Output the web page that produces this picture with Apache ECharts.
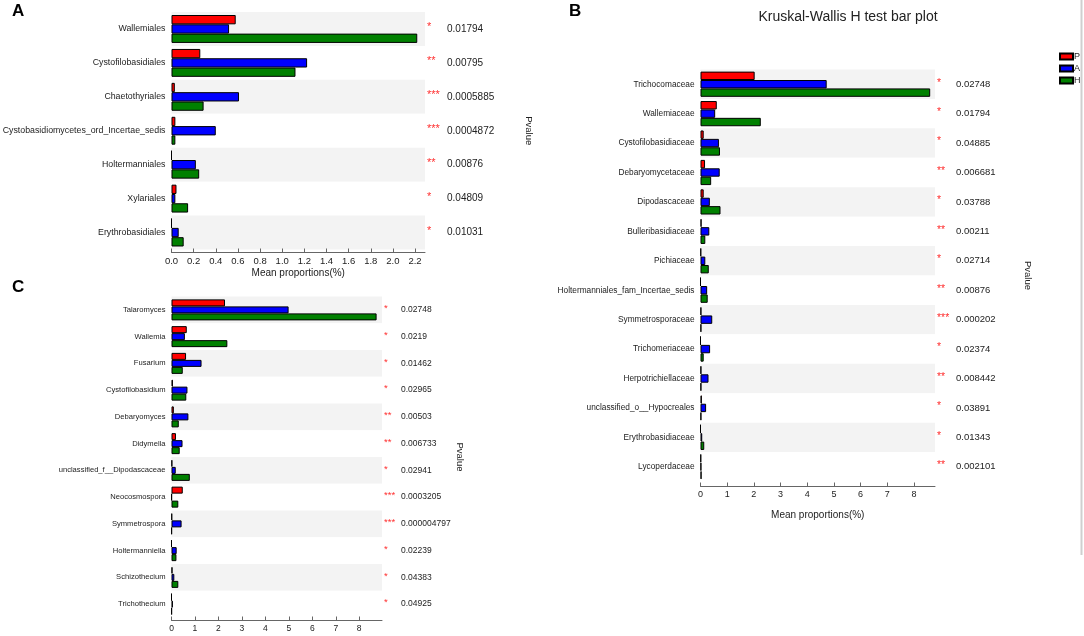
<!DOCTYPE html>
<html>
<head>
<meta charset="utf-8">
<script src="https://cdn.jsdelivr.net/npm/echarts@6/dist/echarts.min.js"></script>
<style>
html,body{margin:0;padding:0;background:#fff;}
#main{width:1084px;height:636px;}
</style>
</head>
<body>
<div id="main"></div>
<script>
// ---------- Panel A (order level) ----------
const catsA = ['Wallemiales','Cystofilobasidiales','Chaetothyriales','Cystobasidiomycetes_ord_Incertae_sedis','Holtermanniales','Xylariales','Erythrobasidiales'];
const valsA_P = [0.58, 0.26, 0.03, 0.035, 0, 0.045, 0];
const valsA_A = [0.52, 1.225, 0.61, 0.40, 0.22, 0.035, 0.065];
const valsA_H = [2.22, 1.12, 0.29, 0.035, 0.25, 0.15, 0.11];
const starsA = ['*','**','***','***','**','*','*'];
const pvalA = ['0.01794','0.00795','0.0005885','0.0004872','0.00876','0.04809','0.01031'];

// ---------- Panel B (family level) ----------
const catsB = ['Trichocomaceae','Wallemiaceae','Cystofilobasidiaceae','Debaryomycetaceae','Dipodascaceae','Bulleribasidiaceae','Pichiaceae','Holtermanniales_fam_Incertae_sedis','Symmetrosporaceae','Trichomeriaceae','Herpotrichiellaceae','unclassified_o__Hypocreales','Erythrobasidiaceae','Lycoperdaceae'];
const valsB_P = [2.03, 0.61, 0.12, 0.17, 0.12, 0.04, 0.02, 0, 0.03, 0, 0.03, 0.05, 0, 0.02];
const valsB_A = [4.73, 0.55, 0.69, 0.72, 0.35, 0.33, 0.18, 0.25, 0.44, 0.36, 0.30, 0.21, 0.065, 0.03];
const valsB_H = [8.61, 2.26, 0.73, 0.40, 0.75, 0.18, 0.31, 0.27, 0.03, 0.12, 0.03, 0.03, 0.14, 0.04];
const starsB = ['*','*','*','**','*','**','*','**','***','*','**','*','*','**'];
const pvalB = ['0.02748','0.01794','0.04885','0.006681','0.03788','0.00211','0.02714','0.00876','0.000202','0.02374','0.008442','0.03891','0.01343','0.002101'];

// ---------- Panel C (genus level) ----------
const catsC = ['Talaromyces','Wallemia','Fusarium','Cystofilobasidium','Debaryomyces','Didymella','unclassified_f__Dipodascaceae','Neocosmospora','Symmetrospora','Holtermanniella','Schizothecium','Trichothecium'];
const valsC_P = [2.28, 0.65, 0.62, 0.06, 0.10, 0.19, 0.03, 0.48, 0.02, 0, 0.04, 0];
const valsC_A = [4.99, 0.57, 1.28, 0.68, 0.72, 0.47, 0.18, 0.01, 0.43, 0.22, 0.12, 0.06];
const valsC_H = [8.74, 2.38, 0.48, 0.63, 0.31, 0.35, 0.78, 0.29, 0.01, 0.21, 0.29, 0.01];
const starsC = ['*','*','*','*','**','**','*','***','***','*','*','*'];
const pvalC = ['0.02748','0.0219','0.01462','0.02965','0.00503','0.006733','0.02941','0.0003205','0.000004797','0.02239','0.04383','0.04925'];

const groupNames = ['P','A','H'];
const groupColors = ['#ff0000','#0000ff','#008000'];
const FONT = '"Liberation Sans", Arial, sans-serif';

const panels = [
  {cats: catsA, vals: [valsA_P, valsA_A, valsA_H], stars: starsA, pv: pvalA,
   grid: {left: 171.5, top: 12, width: 253.5, height: 237.5},
   max: 2.29, interval: 0.2, dec: 1, off: 3, catFs: 8.8, tickFs: 9.5, pFs: 10, starW: 20,
   barW: 9.3, nameGapX: 16, pvGap: 99},
  {cats: catsB, vals: [valsB_P, valsB_A, valsB_H], stars: starsB, pv: pvalB,
   grid: {left: 700.5, top: 69.5, width: 234.5, height: 412},
   max: 8.79, interval: 1, dec: 0, off: 5, catFs: 8.3, tickFs: 9, pFs: 9.5, starW: 19,
   barW: 8.4, nameGapX: 24, pvGap: 88},
  {cats: catsC, vals: [valsC_P, valsC_A, valsC_H], stars: starsC, pv: pvalC,
   grid: {left: 171.5, top: 296.5, width: 210.5, height: 321},
   max: 8.97, interval: 1, dec: 0, off: 3, catFs: 7.6, tickFs: 8.5, pFs: 8.5, starW: 17,
   barW: 7.0, nameGapX: 20, pvGap: 73, noName: true}
];

const grids = [], xAxes = [], yAxes = [], series = [];
panels.forEach((p, i) => {
  grids.push(Object.assign({containLabel: false, outerBoundsMode: 'none'}, p.grid));
  xAxes.push({
    type: 'value', gridIndex: i, min: 0, max: p.max, interval: p.interval, offset: p.off,
    axisLine: {show: true, lineStyle: {color: '#666', width: 1}},
    axisTick: {show: true, inside: true, length: 4, lineStyle: {color: '#666'}},
    splitLine: {show: false},
    axisLabel: {fontSize: p.tickFs, color: '#222', fontFamily: FONT, margin: 4, showMaxLabel: false,
      formatter: v => v.toFixed(p.dec)},
    name: p.noName ? '' : 'Mean proportions(%)', nameLocation: 'middle', nameGap: p.nameGapX,
    nameTextStyle: {fontSize: 10, color: '#222', fontFamily: FONT}
  });
  yAxes.push({
    type: 'category', gridIndex: i, data: p.cats, inverse: true,
    axisLine: {show: false}, axisTick: {show: false},
    axisLabel: {interval: 0, fontSize: p.catFs, color: '#222', fontFamily: FONT, margin: 6},
    splitArea: {show: true, areaStyle: {color: ['#f3f3f3', '#ffffff']}}
  });
  yAxes.push({
    type: 'category', gridIndex: i, data: p.cats, inverse: true, position: 'right',
    axisLine: {show: false}, axisTick: {show: false},
    axisLabel: {interval: 0, margin: 2, fontFamily: FONT,
      formatter: (v, k) => '{s|' + p.stars[k] + '}{p|' + p.pv[k] + '}',
      rich: {
        s: {width: p.starW, color: '#ff3030', fontSize: p.pFs + 1, fontFamily: FONT, padding: [0,0,3,0]},
        p: {fontSize: p.pFs, color: '#222', fontFamily: FONT}
      }},
    name: 'Pvalue', nameLocation: 'middle', nameRotate: -90, nameGap: p.pvGap,
    nameTextStyle: {fontSize: 9.5, color: '#222', fontFamily: FONT}
  });
  p.vals.forEach((arr, g) => {
    series.push({
      name: groupNames[g], type: 'bar', xAxisIndex: i, yAxisIndex: 2 * i,
      data: arr, barWidth: p.barW, barGap: '0%', silent: true, animation: false,
      itemStyle: {color: groupColors[g], borderColor: '#000', borderWidth: 1}
    });
  });
});

const chart = echarts.init(document.getElementById('main'));
chart.setOption({
  backgroundColor: '#fff',
  animation: false,
  textStyle: {fontFamily: FONT},
  grid: grids, xAxis: xAxes, yAxis: yAxes, series: series,
  legend: {
    data: groupNames, orient: 'vertical', left: 1059, top: 52, padding: 0,
    itemWidth: 13, itemHeight: 6, itemGap: 3, icon: 'rect',
    textStyle: {fontSize: 9, color: '#222', padding: [0,0,0,-4]}, selectedMode: false
  },
  graphic: [
    {type: 'text', left: 12, top: 3, style: {text: 'A', font: 'bold 17px ' + FONT, fill: '#000'}},
    {type: 'text', left: 569, top: 3, style: {text: 'B', font: 'bold 17px ' + FONT, fill: '#000'}},
    {type: 'text', left: 12, top: 279, style: {text: 'C', font: 'bold 17px ' + FONT, fill: '#000'}},
    {type: 'text', x: 848, y: 17, style: {text: 'Kruskal-Wallis H test bar plot', font: '14px ' + FONT, fill: '#222', textAlign: 'center', textVerticalAlign: 'middle'}},
    {type: 'line', shape: {x1: 1081.5, y1: 0, x2: 1081.5, y2: 555}, style: {stroke: '#cfcfcf', lineWidth: 2}}
  ]
});
</script>
</body>
</html>
